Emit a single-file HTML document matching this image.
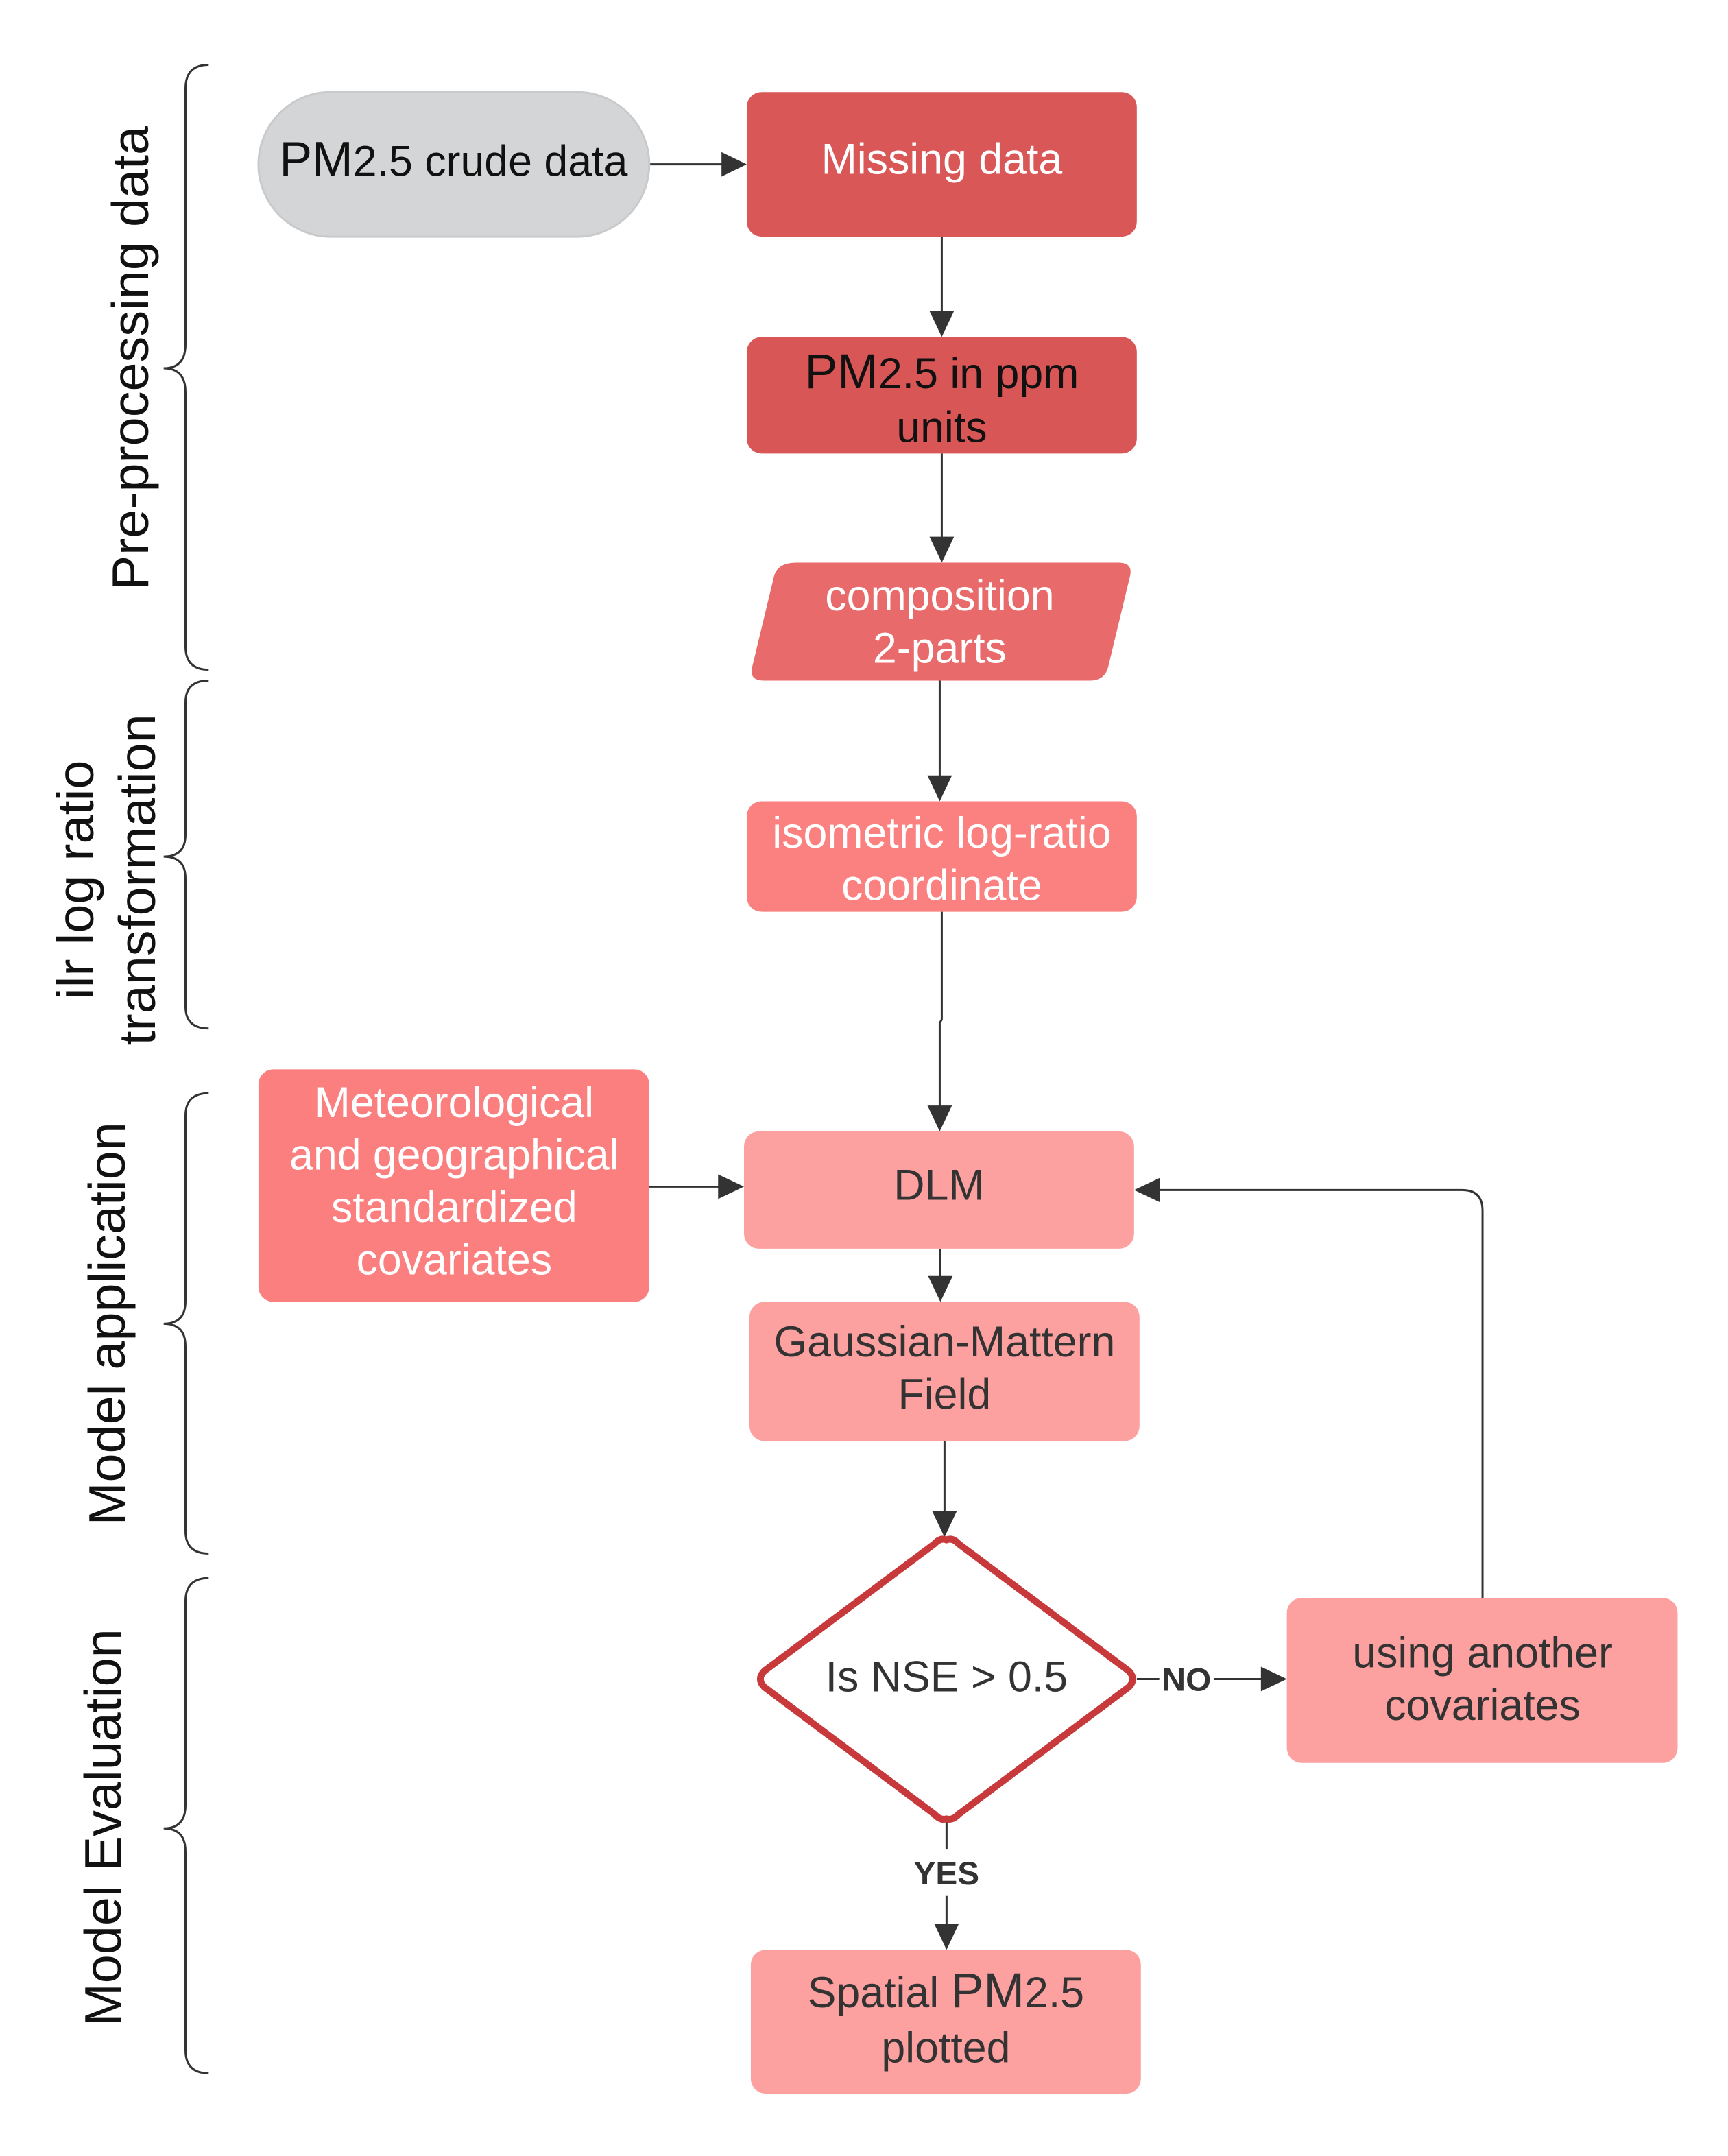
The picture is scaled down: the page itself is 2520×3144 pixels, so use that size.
<!DOCTYPE html>
<html><head><meta charset="utf-8"><style>
html,body{margin:0;padding:0;background:#fff;}
svg{display:block;}
text{font-family:"Liberation Sans",Arial,sans-serif;}
</style></head><body>
<svg width="2520" height="3144" viewBox="0 0 2520 3144" xmlns="http://www.w3.org/2000/svg">
<g transform="scale(0.9945)">
<g fill="none" stroke="#333" stroke-width="3">
<path d="M306,95 Q272,95 272,130 L272,505 Q272,540 240,540 Q272,540 272,575 L272,948 Q272,982 306,982"/>
<path d="M306,998 Q272,998 272,1030 L272,1224 Q272,1256 240,1256 Q272,1256 272,1288 L272,1476 Q272,1508 306,1508"/>
<path d="M306,1603 Q272,1603 272,1636 L272,1908 Q272,1941 240,1941 Q272,1941 272,1974 L272,2245 Q272,2278 306,2278"/>
<path d="M306,2314 Q272,2314 272,2348 L272,2647 Q272,2681 240,2681 Q272,2681 272,2715 L272,3006 Q272,3040 306,3040"/>
<line x1="952" y1="241" x2="1060" y2="241"/>
<line x1="1381" y1="347" x2="1381" y2="458"/>
<line x1="1381" y1="665" x2="1381" y2="789"/>
<line x1="1378" y1="998" x2="1378" y2="1139"/>
<path d="M1381,1337 L1381,1495 L1378,1500 L1378,1623"/>
<line x1="952" y1="1740" x2="1055" y2="1740"/>
<line x1="1379" y1="1831" x2="1379" y2="1873"/>
<line x1="1385" y1="2113" x2="1385" y2="2218"/>
<line x1="1667" y1="2462" x2="1700" y2="2462"/>
<line x1="1780" y1="2462" x2="1851" y2="2462"/>
<path d="M2174,2343 L2174,1775 Q2174,1745 2144,1745 L1699,1745"/>
<line x1="1388" y1="2671" x2="1388" y2="2712"/>
<line x1="1388" y1="2780" x2="1388" y2="2823"/>
</g>
<g fill="#333">
<polygon points="1095,241 1058,223 1058,259"/>
<polygon points="1381,494 1363,456 1399,456"/>
<polygon points="1381,825 1363,787 1399,787"/>
<polygon points="1378,1175 1360,1137 1396,1137"/>
<polygon points="1378,1659 1360,1621 1396,1621"/>
<polygon points="1091,1740 1053,1722 1053,1758"/>
<polygon points="1379,1909 1361,1871 1397,1871"/>
<polygon points="1385,2254 1367,2216 1403,2216"/>
<polygon points="1887,2462 1849,2444 1849,2480"/>
<polygon points="1663,1745 1701,1727 1701,1763"/>
<polygon points="1388,2859 1370,2821 1406,2821"/>
</g>
<rect x="379" y="135" width="573" height="212" rx="106" fill="#d4d5d7" stroke="#c9cacc" stroke-width="3"/>
<rect x="1095" y="135" width="572" height="212" rx="22" fill="#d95757"/>
<rect x="1095" y="494" width="572" height="171" rx="22" fill="#d85656"/>
<path d="M1168,825 L1640,825 Q1662,825 1657,845 L1625,978 Q1620,998 1598,998 L1120,998 Q1098,998 1103,978 L1135,845 Q1140,825 1168,825 Z" fill="#e86a6a"/>
<rect x="1095" y="1175" width="572" height="162" rx="22" fill="#fb8080"/>
<rect x="379" y="1568" width="573" height="341" rx="22" fill="#fb7f7f"/>
<rect x="1091" y="1659" width="572" height="172" rx="22" fill="#fda0a0"/>
<rect x="1099" y="1909" width="572" height="204" rx="22" fill="#fda0a0"/>
<path d="M1388,2258 Q1397,2254 1406,2264 L1655,2450 Q1667,2462 1655,2474 L1406,2660 Q1397,2670 1388,2667 Q1379,2670 1370,2660 L1121,2474 Q1109,2462 1121,2450 L1370,2264 Q1379,2254 1388,2258 Z" fill="#fff" stroke="#c8393b" stroke-width="10" stroke-linejoin="round"/>
<rect x="1887" y="2343" width="573" height="242" rx="22" fill="#fda0a0"/>
<rect x="1101" y="2859" width="572" height="211" rx="22" fill="#fda0a0"/>
<g font-size="63" text-anchor="middle">
<text x="665" y="258" fill="#111"><tspan font-size="72">PM</tspan>2.5 crude data</text>
<text x="1381" y="255" fill="#fff">Missing data</text>
<text x="1381" y="569" fill="#111"><tspan font-size="72">PM</tspan>2.5 in ppm</text>
<text x="1381" y="648" fill="#111">units</text>
<text x="1378" y="895" fill="#fff">composition</text>
<text x="1378" y="972" fill="#fff">2-parts</text>
<text x="1381" y="1243" fill="#fff">isometric log-ratio</text>
<text x="1381" y="1320" fill="#fff">coordinate</text>
<text x="666" y="1638" fill="#fff">Meteorological</text>
<text x="666" y="1715" fill="#fff">and geographical</text>
<text x="666" y="1792" fill="#fff">standardized</text>
<text x="666" y="1869" fill="#fff">covariates</text>
<text x="1377" y="1759" fill="#333">DLM</text>
<text x="1385" y="1989" fill="#333">Gaussian-Mattern</text>
<text x="1385" y="2066" fill="#333">Field</text>
<text x="1388" y="2480" fill="#333">Is NSE &gt; 0.5</text>
<text x="2174" y="2445" fill="#333">using another</text>
<text x="2174" y="2522" fill="#333">covariates</text>
<text x="1387" y="2943" fill="#333">Spatial <tspan font-size="72">PM</tspan>2.5</text>
<text x="1387" y="3024" fill="#333">plotted</text>
</g>
<g font-size="48" font-weight="bold" fill="#333" text-anchor="middle">
<text x="1740" y="2479">NO</text>
<text x="1388" y="2763">YES</text>
</g>
<g font-size="76" fill="#111" text-anchor="middle">
<text transform="translate(217,525) rotate(-90)">Pre-processing data</text>
<text transform="translate(137,1290) rotate(-90)">ilr log ratio</text>
<text transform="translate(227,1290) rotate(-90)">transformation</text>
<text transform="translate(183,1941) rotate(-90)">Model application</text>
<text transform="translate(177,2680) rotate(-90)">Model Evaluation</text>
</g>
</g>
</svg>
</body></html>
